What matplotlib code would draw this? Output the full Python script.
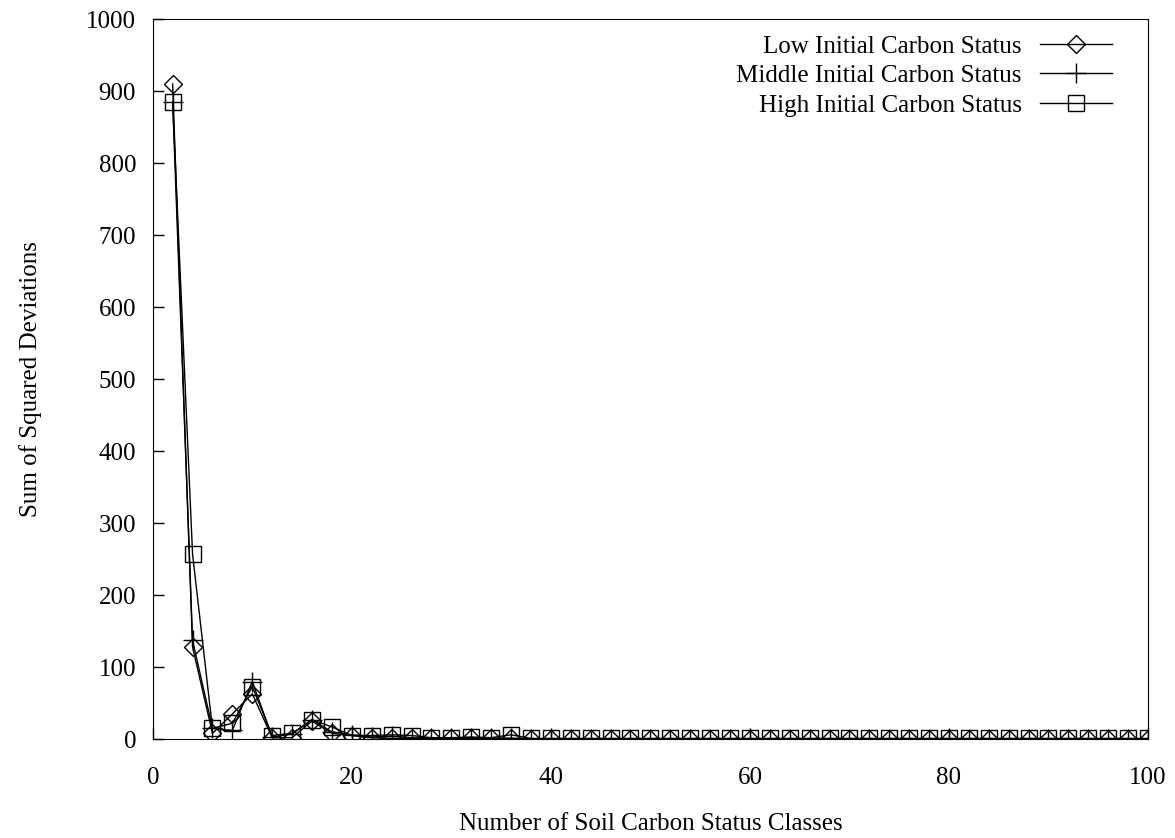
import numpy as np
import matplotlib.pyplot as plt

plt.rcParams['font.family'] = ['Liberation Serif', 'DejaVu Serif']

n_classes = np.arange(2, 101, 2)

low_head = [910, 128, 8, 35, 63, 2, 2, 25, 8, 5, 2, 1, 1, 1, 1, 1, 1, 1]
mid_head = [885, 137, 15, 12, 80, 3, 7, 27, 10, 6, 3, 4, 2, 1, 1, 2, 1, 1]
high_head = [885, 257, 15, 22, 73, 5, 8, 27, 17, 5, 5, 6, 5, 2, 2, 3, 2, 6]

low = np.array(low_head + [0.5] * (len(n_classes) - len(low_head)))
mid = np.array(mid_head + [0.5] * (len(n_classes) - len(mid_head)))
high = np.array(high_head + [1] * (len(n_classes) - len(high_head)))

fig, ax = plt.subplots(figsize=(11.75, 8.38), dpi=100)
fig.subplots_adjust(left=0.130, right=0.977, top=0.977, bottom=0.118)

ax.plot(n_classes, low, color='black', lw=1, marker='D', ms=9, mfc='none',
        mec='black', mew=1, label='Low Initial Carbon Status')
ax.plot(n_classes, mid, color='black', lw=1, marker='+', ms=14, mew=1,
        label='Middle Initial Carbon Status')
ax.plot(n_classes, high, color='black', lw=1, marker='s', ms=11, mfc='none',
        mec='black', mew=1, label='High Initial Carbon Status')

ax.set_xlim(0, 100)
ax.set_ylim(0, 1000)
ax.set_xticks(np.arange(0, 101, 20))
ax.set_yticks(np.arange(0, 1001, 100))
ax.tick_params(direction='in', length=8, labelsize=18, width=1)
ax.tick_params(axis='x', pad=20)
ax.tick_params(axis='y', pad=12)
ax.set_xlabel('Number of Soil Carbon Status Classes', fontsize=18, labelpad=17)
ax.set_ylabel('Sum of Squared Deviations', fontsize=18, labelpad=32)

leg = ax.legend(loc='upper right', bbox_to_anchor=(0.964, 0.978), frameon=False,
                fontsize=18, markerfirst=False, handlelength=2.9,
                labelspacing=0.28, borderaxespad=0, borderpad=0,
                handletextpad=0.72)

fig.savefig('out.png')
